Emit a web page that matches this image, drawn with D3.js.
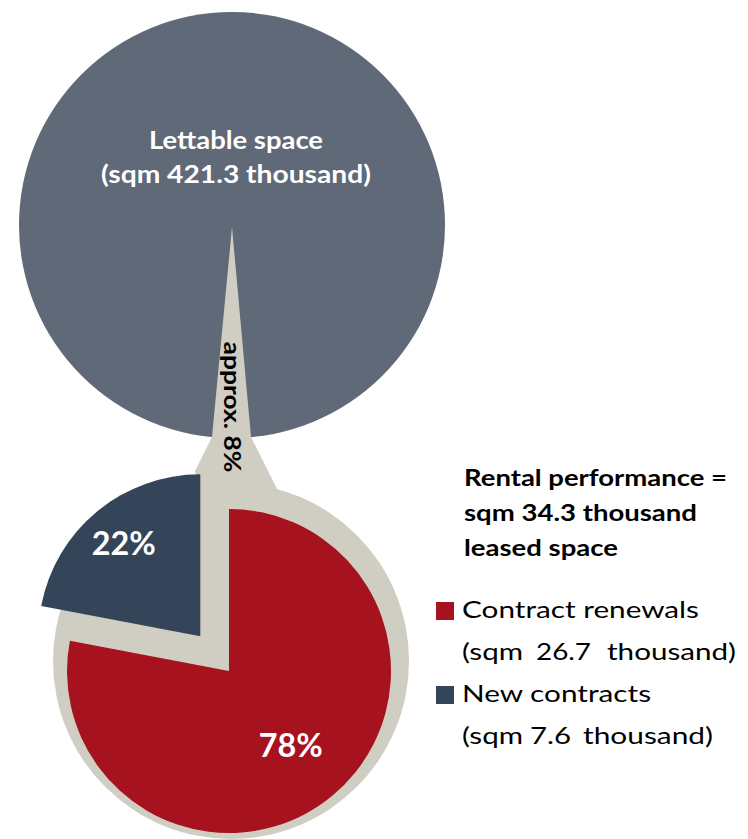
<!DOCTYPE html>
<html>
<head>
<meta charset="utf-8">
<script src="https://cdn.jsdelivr.net/npm/d3@7/dist/d3.min.js"></script>
<style>
  html, body { margin: 0; padding: 0; background: #ffffff; }
  svg { display: block; }
</style>
</head>
<body>
<div id="chart"></div>
<script>
// Leasing split of the quarter (sqm thousand)
const categories = ["Contract renewals", "New contracts"];
const leasedValues = [26.7, 7.6];
const shareLabels = ["78%", "22%"];
const sharePct = [78, 22];

// Portfolio context
const lettableSpace = 421.3;
const rentalPerformance = 34.3;
const leasedShareText = "approx. 8%";

// Text blocks
const lettableLines = ["Lettable space", "(sqm 421.3 thousand)"];
const summaryLines = ["Rental performance =", "sqm 34.3 thousand", "leased space"];

const colors = {
  lettable: "#5f6977",
  ring: "#d0cec2",
  slices: ["#a6121e", "#344559"]
};

const W = 748, H = 839;
const svg = d3.select("#chart").append("svg")
  .attr("width", W).attr("height", H)
  .attr("font-family", "Lato, 'Open Sans', sans-serif");

// Helper: text stretched to a fixed run length
function fitText(parent, str, x, y, len, opts = {}) {
  return parent.append("text")
    .attr("x", x).attr("y", y)
    .attr("font-size", opts.size || 24)
    .attr("font-weight", opts.weight || 400)
    .attr("fill", opts.fill || "#000000")
    .attr("text-anchor", opts.anchor || "start")
    .attr("textLength", len)
    .attr("lengthAdjust", "spacingAndGlyphs")
    .text(str);
}

// Upper circle: total lettable space
const upper = { cx: 232, cy: 225, r: 213 };
// Lower pie: leased space split
const pie = { cx: 229, cy: 671, r: 162 };
const ring = { cx: 231, cy: 661, r: 178 };

svg.append("circle")
  .attr("cx", upper.cx).attr("cy", upper.cy).attr("r", upper.r)
  .attr("fill", colors.lettable);

// Beige backing disc of the lower pie
svg.append("circle")
  .attr("cx", ring.cx).attr("cy", ring.cy).attr("r", ring.r)
  .attr("fill", colors.ring);

// Connector wedge from the centre of the upper circle down into the lower disc
const connector = d3.line()([
  [upper.cx, upper.cy + 2],
  [upper.cx + 19, upper.cy + upper.r - 1],
  [upper.cx + 48, ring.cy - ring.r + 12],
  [pie.cx, pie.cy],
  [upper.cx - 37, ring.cy - ring.r - 12],
  [upper.cx - 20, upper.cy + upper.r - 1]
]) + "Z";
svg.append("path").attr("d", connector).attr("fill", colors.ring);

// Pie slices
const pieGen = d3.pie().sort(null).value(d => d)(sharePct);
const arc = d3.arc().innerRadius(0).outerRadius(pie.r);
const explode = [0, 45];
const labelR = [97, 120];

const g = svg.append("g").attr("transform", `translate(${pie.cx},${pie.cy})`);
pieGen.forEach((d, i) => {
  const mid = (d.startAngle + d.endAngle) / 2;
  const ox = Math.sin(mid) * explode[i];
  const oy = -Math.cos(mid) * explode[i];
  const sg = g.append("g").attr("transform", `translate(${ox},${oy})`);
  sg.append("path").attr("d", arc(d)).attr("fill", colors.slices[i]);
  sg.append("text")
    .attr("x", Math.sin(mid) * labelR[i])
    .attr("y", -Math.cos(mid) * labelR[i])
    .attr("dy", "0.36em")
    .attr("text-anchor", "middle")
    .attr("fill", "#ffffff")
    .attr("font-weight", 700)
    .attr("font-size", 32)
    .attr("textLength", 64)
    .attr("lengthAdjust", "spacingAndGlyphs")
    .text(shareLabels[i]);
});

// Upper circle caption
const captionRuns = [174, 270];
lettableLines.forEach((line, i) => {
  fitText(svg, line, 236, 149 + i * 34, captionRuns[i],
    { size: 25, weight: 700, fill: "#ffffff", anchor: "middle" });
});

// Vertical share label inside the connector
svg.append("text")
  .attr("transform", `translate(${upper.cx},407) rotate(90)`)
  .attr("text-anchor", "middle")
  .attr("dy", "0.35em")
  .attr("fill", "#000000")
  .attr("font-weight", 700)
  .attr("font-size", 23)
  .attr("textLength", 131)
  .attr("lengthAdjust", "spacingAndGlyphs")
  .text(leasedShareText);

// Summary block
const summaryRuns = [263, 233, 154];
summaryLines.forEach((line, i) => {
  fitText(svg, line, 464, 486 + i * 35, summaryRuns[i], { size: 22.5, weight: 700 });
});

// Legend
const legendY = [618, 702];
const legendRuns = [237, 189];
// pieces of the value line: "(sqm", value, "thousand)"
const valueRuns = [
  { pre: [462, 61], num: [536, 55], post: [607, 129] },
  { pre: [462, 61], num: [530, 41], post: [583, 130] }
];

const defs = svg.append("defs");
defs.append("clipPath").attr("id", "cut-sqm")
  .append("rect").attr("x", 455).attr("y", 700).attr("width", 68).attr("height", 60);

categories.forEach((c, i) => {
  const y = legendY[i];
  svg.append("rect")
    .attr("x", 436).attr("y", y - 16)
    .attr("width", 18).attr("height", 18)
    .attr("fill", colors.slices[i]);
  fitText(svg, c, 462, y, legendRuns[i], { size: 23.5 });

  const vy = y + 42;
  const r = valueRuns[i];
  const pre = fitText(svg, "(sqm", r.pre[0], vy, r.pre[1], { size: 23.5 });
  if (i === 1) pre.attr("clip-path", "url(#cut-sqm)");
  fitText(svg, leasedValues[i].toFixed(1), r.num[0], vy, r.num[1], { size: 23.5 });
  fitText(svg, "thousand)", r.post[0], vy, r.post[1], { size: 23.5 });
});
</script>
</body>
</html>
